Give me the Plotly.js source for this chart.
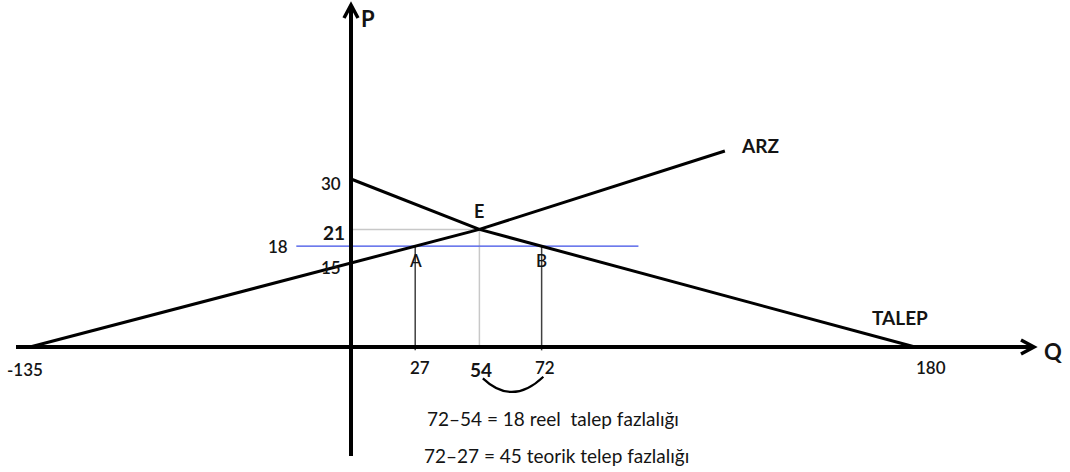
<!DOCTYPE html>
<html>
<head>
<meta charset="utf-8">
<script src="https://cdn.plot.ly/plotly-3.0.1.min.js"></script>
<style>
html,body{margin:0;padding:0;background:#fff;}
#chart{width:1070px;height:472px;}
</style>
</head>
<body>
<div id="chart"></div>
<script>
// ---- chart values ----
const supplyQ = [-135, 54, 125];      // ARZ line
const supplyP = [0, 21, 35];
const demandQ = [0, 54, 180];         // TALEP line
const demandP = [30, 21, 0];
const eqQ = 54, eqP = 21;             // E
const ceilingP = 18;                  // blue price line
const ceilingQ = [-23, 100];
const aQ = 27, bQ = 72;               // A and B
const pTickVals = [30, 21, 18, 15];
const qTickVals = [-135, 27, 54, 72, 180];
const noteLines = ["72\u201354 = 18 reel\u00a0 talep fazlalığı", "72\u201327 = 45 teorik telep fazlalığı"];

// ---- layout geometry (styling only) ----
const W = 1070, H = 472;
const ox = 351, oy = 347;                       // pixel position of the origin
const s1 = 321 / 135;                            // px per Q unit, left part
const s2 = (915 - ox - eqQ * s1) / (180 - eqQ);  // px per Q unit, right part
const sy = 5.6;                                  // px per P unit
const splitPx = ox + eqQ * s1;

const FONT = "Lato, 'Open Sans', 'Liberation Sans', sans-serif";
const BLACK = '#141414';

function piece(qs, ps, leftSide) {
  const x = [], y = [];
  for (let i = 0; i < qs.length; i++) {
    if (leftSide ? qs[i] <= eqQ : qs[i] >= eqQ) { x.push(qs[i]); y.push(ps[i]); }
  }
  return {x, y};
}
function lineTrace(xy, axis, color, width) {
  return {x: xy.x, y: xy.y, xaxis: axis, yaxis: 'y', mode: 'lines',
          line: {color: color, width: width}, hoverinfo: 'skip', showlegend: false};
}

const traces = [];
// gray equilibrium guides
traces.push(lineTrace({x: [0, eqQ, eqQ], y: [eqP, eqP, 0]}, 'x', '#c8c8c8', 1.5));
// verticals at A and B
traces.push(lineTrace({x: [aQ, aQ], y: [-0.6, ceilingP]}, 'x', '#404040', 1.5));
traces.push(lineTrace({x: [bQ, bQ], y: [-0.6, ceilingP]}, 'x2', '#404040', 1.5));
// blue price line
traces.push(lineTrace({x: [ceilingQ[0], eqQ], y: [ceilingP, ceilingP]}, 'x', '#3c4ee6', 1.3));
traces.push(lineTrace({x: [eqQ, ceilingQ[1]], y: [ceilingP, ceilingP]}, 'x2', '#3c4ee6', 1.3));
// supply and demand
traces.push(lineTrace(piece(supplyQ, supplyP, true), 'x', '#000', 3));
traces.push(lineTrace(piece(supplyQ, supplyP, false), 'x2', '#000', 3));
traces.push(lineTrace(piece(demandQ, demandP, true), 'x', '#000', 3));
traces.push(lineTrace(piece(demandQ, demandP, false), 'x2', '#000', 3));

function axisOf(q) { return q <= eqQ ? 'x' : 'x2'; }

const NUM = {family: FONT, size: 17, color: BLACK, weight: 600};
const ann = [];
function label(text, q, p, opts) {
  ann.push(Object.assign({text: text, x: q, y: p, xref: axisOf(q), yref: 'y', showarrow: false,
    font: NUM}, opts));
}
// P-axis values
label('30', 0, 30, {xanchor: 'right', xshift: -8, yshift: -4});
label('<b>21</b>', 0, 21, {xanchor: 'right', xshift: -4, yshift: -3, font: {family: FONT, size: 19, color: BLACK}});
label('18', ceilingQ[0], 18, {xanchor: 'right', xshift: -6});
label('15', 0, 15, {xanchor: 'right', xshift: -8, yshift: -4});
// points
label('E', eqQ, eqP, {yanchor: 'bottom', yshift: 5, font: {family: FONT, size: 18, color: BLACK, weight: 'bold'}});
label('A', aQ, ceilingP, {yanchor: 'top', yshift: -2, font: {family: FONT, size: 17, color: BLACK, weight: 600}});
label('B', bQ, ceilingP, {yanchor: 'top', yshift: -2, font: {family: FONT, size: 17, color: BLACK, weight: 600}});
// Q-axis values
label('-135', -135, 0, {yanchor: 'top', yshift: -10, xshift: -5});
label('27', aQ, 0, {yanchor: 'top', yshift: -8, xshift: 5});
label('<b>54</b>', eqQ, 0, {yanchor: 'top', yshift: -9, xshift: 2, font: {family: FONT, size: 19, color: BLACK}});
label('72', bQ, 0, {yanchor: 'top', yshift: -8, xshift: 3});
label('180', 180, 0, {yanchor: 'top', yshift: -8, xshift: 16});
// curve names
label('<b>ARZ</b>', supplyQ[2], supplyP[2], {xanchor: 'left', xshift: 14, yshift: 6, font: {family: FONT, size: 19, color: BLACK}});
label('<b>TALEP</b>', 180, 0, {yanchor: 'bottom', xshift: -15, yshift: 16, font: {family: FONT, size: 19, color: BLACK}});
// axis names
ann.push({text: '<b>P</b>', xref: 'x', x: 0, yref: 'paper', y: 1, xanchor: 'left', yanchor: 'top',
  xshift: 8, yshift: -3, showarrow: false, font: {family: FONT, size: 22, color: BLACK}});
ann.push({text: '<b>Q</b>', xref: 'paper', x: 1, yref: 'y', y: 0, xanchor: 'right', yanchor: 'middle',
  xshift: -6, yshift: -4, showarrow: false, font: {family: FONT, size: 22, color: BLACK}});
// notes
ann.push({text: noteLines[0], xref: 'paper', x: 553 / W, yref: 'paper', y: (H - 418) / H,
  xanchor: 'center', yanchor: 'middle', showarrow: false, font: {family: FONT, size: 19, color: BLACK}});
ann.push({text: noteLines[1], xref: 'paper', x: 556 / W, yref: 'paper', y: (H - 455) / H,
  xanchor: 'center', yanchor: 'middle', showarrow: false, font: {family: FONT, size: 19, color: BLACK}});

const shapes = [
  // Q axis
  {type: 'line', xref: 'paper', x0: 16 / W, x1: 1032 / W, yref: 'y', y0: 0, y1: 0,
   line: {color: '#000', width: 4}, layer: 'above'},
  {type: 'path', xref: 'paper', xsizemode: 'pixel', xanchor: 1034 / W, yref: 'y', ysizemode: 'pixel', yanchor: 0,
   path: 'M -13 7 L 0 0 L -13 -7', line: {color: '#000', width: 3.5}, layer: 'above'},
  // P axis
  {type: 'line', xref: 'x', x0: 0, x1: 0, yref: 'paper', y0: (H - 456) / H, y1: (H - 6) / H,
   line: {color: '#000', width: 4}, layer: 'above'},
  {type: 'path', xref: 'x', xsizemode: 'pixel', xanchor: 0, yref: 'paper', ysizemode: 'pixel', yanchor: (H - 5) / H,
   path: 'M -7 -13 L 0 0 L 7 -13', line: {color: '#000', width: 3.5}, layer: 'above'},
  // brace under 54-72
  {type: 'path', xref: 'x2', yref: 'y', path: 'M 55 -5.6 Q 63.5 -10.6 72.5 -5.3',
   line: {color: '#000', width: 2.2}}
];

const layout = {
  width: W, height: H,
  margin: {l: 0, r: 0, t: 0, b: 0},
  paper_bgcolor: '#fff', plot_bgcolor: '#fff',
  showlegend: false,
  xaxis: {visible: false, range: [-ox / s1, (W - ox) / s1], fixedrange: true},
  xaxis2: {visible: false, overlaying: 'x', anchor: 'y',
           range: [eqQ - splitPx / s2, eqQ + (W - splitPx) / s2], fixedrange: true},
  yaxis: {visible: false, range: [-(H - oy) / sy, oy / sy], fixedrange: true},
  annotations: ann,
  shapes: shapes
};

Plotly.newPlot('chart', traces, layout, {displayModeBar: false, staticPlot: true});
</script>
</body>
</html>
